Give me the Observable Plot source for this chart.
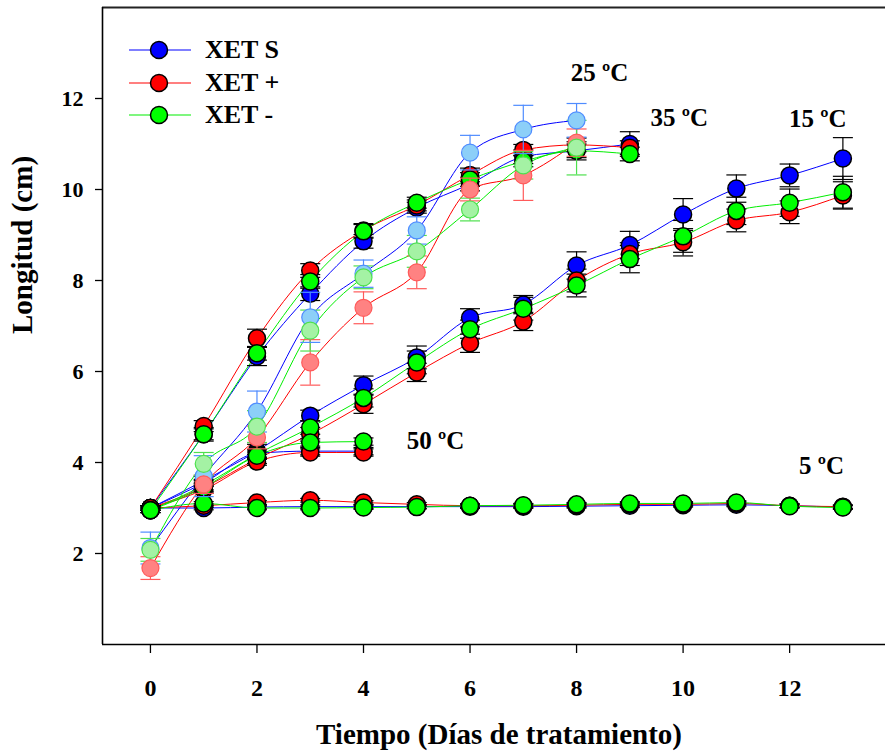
<!DOCTYPE html>
<html><head><meta charset="utf-8">
<script src="https://cdn.jsdelivr.net/npm/d3@7"></script>
<script src="https://cdn.jsdelivr.net/npm/@observablehq/plot@0.6"></script>
<style>
body{margin:0;background:#fff;}
#wrap{position:relative;width:885px;height:752px;font-family:"Liberation Serif",serif;}
#wrap svg text{font-weight:bold;}
.legend{position:absolute;left:129px;top:34px;}
.row{display:flex;align-items:center;height:32.5px;}
.row span{font-family:"Liberation Serif","Times New Roman",serif;font-weight:bold;font-size:26px;margin-left:14px;color:#000;}
</style></head><body><div id="wrap"></div>
<script>
const days = [0,1,2,3,4,5,6,7,8,9,10,11,12,13];
const seriesNames = ["XET S","XET +","XET -"];
const xTicks = [0,2,4,6,8,10,12];
const yTicks = [2,4,6,8,10,12];

// 5 ºC
const s5 = [3.00,3.00,3.02,3.03,3.03,3.03,3.03,3.03,3.04,3.05,3.06,3.07,3.05,3.02];
const p5 = [3.00,3.05,3.12,3.17,3.12,3.08,3.05,3.05,3.06,3.08,3.08,3.10,3.05,3.03];
const m5 = [2.95,3.10,3.00,3.00,3.01,3.02,3.05,3.06,3.08,3.10,3.10,3.12,3.04,3.01];
const es5 = [0.05,0.04,0.04,0.04,0.04,0.04,0.04,0.04,0.04,0.04,0.04,0.04,0.04,0.04];
const ep5 = [0.05,0.04,0.04,0.04,0.04,0.04,0.04,0.04,0.04,0.04,0.04,0.04,0.04,0.04];
const em5 = [0.05,0.04,0.04,0.04,0.04,0.04,0.04,0.04,0.04,0.04,0.04,0.04,0.04,0.04];
// 15 ºC
const s15 = [3.00,3.60,4.25,5.03,5.70,6.31,7.18,7.47,8.33,8.78,9.45,10.02,10.31,10.68];
const p15 = [3.00,3.45,4.08,4.62,5.28,5.98,6.62,7.10,8.00,8.58,8.84,9.32,9.50,9.87];
const m15 = [2.95,3.50,4.18,4.77,5.42,6.20,6.93,7.38,7.89,8.47,8.97,9.53,9.71,9.94];
const es15 = [0.05,0.10,0.15,0.12,0.20,0.25,0.20,0.20,0.30,0.30,0.35,0.30,0.25,0.46];
const ep15 = [0.05,0.10,0.10,0.15,0.20,0.20,0.20,0.20,0.25,0.25,0.30,0.25,0.25,0.30];
const em15 = [0.05,0.10,0.10,0.15,0.20,0.25,0.20,0.25,0.25,0.30,0.35,0.30,0.30,0.35];
// 25 ºC
const s25 = [2.12,3.70,5.12,7.19,8.15,9.10,10.81,11.32,11.52];
const p25 = [1.68,3.52,4.55,6.20,7.40,8.18,10.00,10.31,11.03];
const m25 = [2.08,3.97,4.79,6.90,8.07,8.64,9.56,10.53,10.92];
const es25 = [0.35,0.45,0.45,0.55,0.30,0.30,0.38,0.53,0.37];
const ep25 = [0.25,0.20,0.25,0.50,0.35,0.36,0.25,0.55,0.30];
const em25 = [0.25,0.25,0.35,0.45,0.25,0.35,0.25,0.30,0.60];
// 35 ºC
const s35 = [3.00,4.62,6.33,7.71,8.86,9.60,10.12,10.72,10.85,11.00];
const p35 = [3.00,4.80,6.73,8.22,9.10,9.65,10.32,10.87,10.98,10.92];
const m35 = [2.95,4.62,6.40,7.98,9.08,9.71,10.22,10.62,10.85,10.78];
const es35 = [0.05,0.15,0.20,0.15,0.15,0.12,0.15,0.15,0.20,0.27];
const ep35 = [0.05,0.12,0.20,0.15,0.15,0.12,0.15,0.12,0.15,0.15];
const em35 = [0.05,0.12,0.15,0.15,0.15,0.12,0.15,0.12,0.15,0.15];
// 50 ºC
const s50 = [3.00,3.55,4.20,4.25,4.25];
const p50 = [3.00,3.40,4.02,4.22,4.22];
const m50 = [2.95,3.45,4.15,4.44,4.46];
const es50 = [0.05,0.08,0.08,0.08,0.08];
const ep50 = [0.05,0.08,0.08,0.08,0.08];
const em50 = [0.05,0.08,0.08,0.08,0.08];

// temperature annotations
const tempLabelText = ["25 ºC","35 ºC","15 ºC","50 ºC","5 ºC"];
const tempLabelDay = [8.43, 9.93, 12.53, 5.35, 12.6];
const tempLabelLen = [12.57, 11.58, 11.54, 4.48, 3.93];

const lineColor = {"XET S":"#0000ff","XET +":"#ff0000","XET -":"#00ee00"};
const darkFill = {"XET S":"#0000ff","XET +":"#ff0000","XET -":"#00ff00"};
const lightFill = {"XET S":"#8ccff8","XET +":"#ff8282","XET -":"#a4f2a4"};
const lightStroke = {"XET S":"#4f8cff","XET +":"#ff5a5a","XET -":"#4ee04e"};

const groups = [
  {temp:"5", light:false, vals:[s5,p5,m5], errs:[es5,ep5,em5]},
  {temp:"15", light:false, vals:[s15,p15,m15], errs:[es15,ep15,em15]},
  {temp:"35", light:false, vals:[s35,p35,m35], errs:[es35,ep35,em35]},
  {temp:"50", light:false, vals:[s50,p50,m50], errs:[es50,ep50,em50]},
  {temp:"25", light:true, vals:[s25,p25,m25], errs:[es25,ep25,em25]}
];
const rows = [];
for (let si = 0; si < 3; si++) {
  for (const g of groups) {
    g.vals[si].forEach((v, i) => rows.push({
      temp: g.temp, series: seriesNames[si], light: g.light,
      key: g.temp + "|" + seriesNames[si], day: days[i], value: v, err: g.errs[si][i]
    }));
  }
}
const dark = rows.filter(d => !d.light);
const light = rows.filter(d => d.light);
const labels = tempLabelText.map((t, i) => ({text: t, day: tempLabelDay[i], len: tempLabelLen[i]}));

const cap = {draw(ctx) { ctx.moveTo(-10, 0); ctx.lineTo(10, 0); }};
const xDomain = [-0.9, 13.8];
const yDomain = [0, 14];
const F = "Liberation Serif, serif";

function errMarks(data, colorFn) {
  return [
    Plot.ruleX(data, {x: "day", y1: d => d.value - d.err, y2: d => d.value + d.err, stroke: colorFn, strokeWidth: 1.2}),
    Plot.dot(data, {x: "day", y: d => d.value + d.err, symbol: cap, r: 1, fill: "none", stroke: colorFn, strokeWidth: 1.2}),
    Plot.dot(data, {x: "day", y: d => d.value - d.err, symbol: cap, r: 1, fill: "none", stroke: colorFn, strokeWidth: 1.2})
  ];
}

const chart = Plot.plot({
  width: 885, height: 752,
  marginLeft: 102, marginRight: 0, marginTop: 7, marginBottom: 108,
  x: {domain: xDomain},
  y: {domain: yDomain},
  color: {type: "identity"},
  style: {fontFamily: F, background: "white", color: "black"},
  marks: [
    Plot.axisX({ticks: xTicks, tickSize: 9, tickPadding: 25, label: null, strokeWidth: 1.3}),
    Plot.axisY({ticks: yTicks, tickSize: 7, tickPadding: 12, label: null, strokeWidth: 1.3}),
    Plot.line(rows, {x: "day", y: "value", z: "key", stroke: d => lineColor[d.series], strokeWidth: 1, curve: "monotone-x"}),
    ...errMarks(dark, () => "#000"),
    Plot.dot(dark, {x: "day", y: "value", r: 8.5, fill: d => darkFill[d.series], stroke: "#000", strokeWidth: 1.5}),
    ...errMarks(light, d => lightStroke[d.series]),
    Plot.dot(light, {x: "day", y: "value", r: 8.5, fill: d => lightFill[d.series], stroke: d => lightStroke[d.series], strokeWidth: 1.2}),
    Plot.ruleY([yDomain[0]], {stroke: "#000", strokeWidth: 1.6}),
    Plot.ruleY([yDomain[1]], {stroke: "#222", strokeWidth: 2}),
    Plot.ruleX([xDomain[0]], {stroke: "#000", strokeWidth: 1.6}),
    Plot.text(labels, {x: "day", y: "len", text: "text", fontSize: 25, fontWeight: "bold", fill: "#000"}),
    Plot.text(["Tiempo (Días de tratamiento)"], {frameAnchor: "bottom", dy: 99, dx: 5, fontSize: 29, fontWeight: "bold", fill: "#000"}),
    Plot.text(["Longitud (cm)"], {frameAnchor: "left", rotate: -90, dx: -80, dy: 8, fontSize: 29, fontWeight: "bold", fill: "#000"})
  ]
});
const wrap = document.getElementById("wrap");
wrap.appendChild(chart);

// tick label sizes: x labels are tall in the reference, y labels slightly smaller
d3.select(chart).selectAll('g[aria-label="x-axis tick label"]').attr("font-size", 24).style("font-size", "24px");
d3.select(chart).selectAll('g[aria-label="x-axis tick label"] text').style("font-size", "24px");
d3.select(chart).selectAll('g[aria-label="y-axis tick label"]').attr("font-size", 22).style("font-size", "22px");
d3.select(chart).selectAll('g[aria-label="y-axis tick label"] text').style("font-size", "22px");

// legend overlay
const leg = document.createElement("div");
leg.className = "legend";
seriesNames.forEach(name => {
  const row = document.createElement("div");
  row.className = "row";
  row.innerHTML = `<svg width="62" height="20"><line x1="0" x2="62" y1="10" y2="10" stroke="${lineColor[name]}" stroke-width="1.2"/><circle cx="30" cy="10" r="8.5" fill="${darkFill[name]}" stroke="#000" stroke-width="1.5"/></svg><span>${name}</span>`;
  leg.appendChild(row);
});
wrap.appendChild(leg);
</script></body></html>
